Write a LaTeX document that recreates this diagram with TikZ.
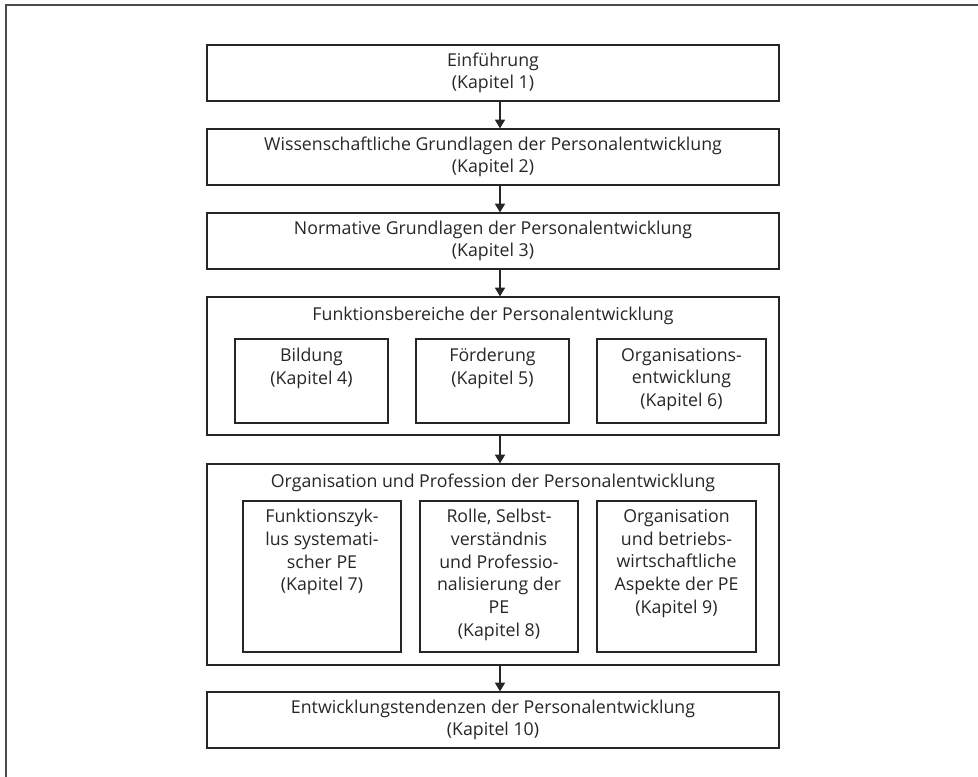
\documentclass[tikz,border=0pt]{standalone}
\usepackage{fontspec}
\setmainfont{Open Sans}
\usetikzlibrary{fit,arrows.meta}
\definecolor{ink}{HTML}{262626}
\definecolor{framec}{HTML}{4A4A4A}
\begin{document}
\begin{tikzpicture}[x=0.75pt,y=-0.75pt,
  box/.style={draw=ink, line width=0.9pt, inner sep=0pt, rectangle, fit={#1}},
  txt/.style={font=\fontsize{13.3}{17}\selectfont, text=ink, align=center, inner sep=0pt},
  arr/.style={draw=ink, line width=0.9pt, -{Triangle[width=7.5pt,length=6.5pt]}},
  framel/.style={draw=framec, line width=1.6pt}
]
\useasboundingbox (0,0) rectangle (978,776);
\draw[framel] (6,780) -- (6,5) -- (982,5);

\coordinate (ax) at (500,0);

% simple boxes
\node[box={(207,45)(779,101)}] (k1) {};
\node[txt] at (k1.center) {Einführung\\ (Kapitel 1)};
\node[box={(207,129)(779,185)}] (k2) {};
\node[txt] at (k2.center) {Wissenschaftliche Grundlagen der Personalentwicklung\\ (Kapitel 2)};
\node[box={(207,213)(779,269)}] (k3) {};
\node[txt] at (k3.center) {Normative Grundlagen der Personalentwicklung\\ (Kapitel 3)};

% Funktionsbereiche
\node[box={(207,297)(779,435)}] (fb) {};
\node[txt, anchor=base] at (493,320) {Funktionsbereiche der Personalentwicklung};
\node[box={(235,339)(388,423)}] (b4) {};
\node[txt, anchor=north] at ([yshift=-7pt]b4.north) {Bildung\\(Kapitel 4)};
\node[box={(416,339)(569,423)}] (b5) {};
\node[txt, anchor=north] at ([yshift=-7pt]b5.north) {Förderung\\(Kapitel 5)};
\node[box={(597,339)(766,423)}] (b6) {};
\node[txt, anchor=north] at ([yshift=-7pt]b6.north) {Organisations-\\entwicklung\\ (Kapitel 6)};

% Organisation und Profession
\node[box={(207,464)(779,665)}] (op) {};
\node[txt, anchor=base] at (493,487) {Organisation und Profession der Personalentwicklung};
\node[box={(243,501)(401,652)}] (b7) {};
\node[txt, anchor=north] at ([yshift=-6.5pt]b7.north) {Funktionszyk-\\lus systemati-\\scher PE\\ (Kapitel 7)};
\node[box={(420,501)(578,652)}] (b8) {};
\node[txt, anchor=north] at ([yshift=-6.5pt]b8.north) {Rolle, Selbst-\\verständnis\\und Professio-\\nalisierung der\\PE\\ (Kapitel 8)};
\node[box={(597,501)(756,652)}] (b9) {};
\node[txt, anchor=north] at ([yshift=-6.5pt]b9.north) {Organisation\\und betriebs-\\wirtschaftliche\\Aspekte der PE\\ (Kapitel 9)};

\node[box={(207,692)(779,748)}] (k10) {};
\node[txt] at (k10.center) {Entwicklungstendenzen der Personalentwicklung\\ (Kapitel 10)};

% arrows
\draw[arr] (k1.south -| ax) -- (k2.north -| ax);
\draw[arr] (k2.south -| ax) -- (k3.north -| ax);
\draw[arr] (k3.south -| ax) -- (fb.north -| ax);
\draw[arr] (fb.south -| ax) -- (op.north -| ax);
\draw[arr] (op.south -| ax) -- (k10.north -| ax);
\end{tikzpicture}
\end{document}
